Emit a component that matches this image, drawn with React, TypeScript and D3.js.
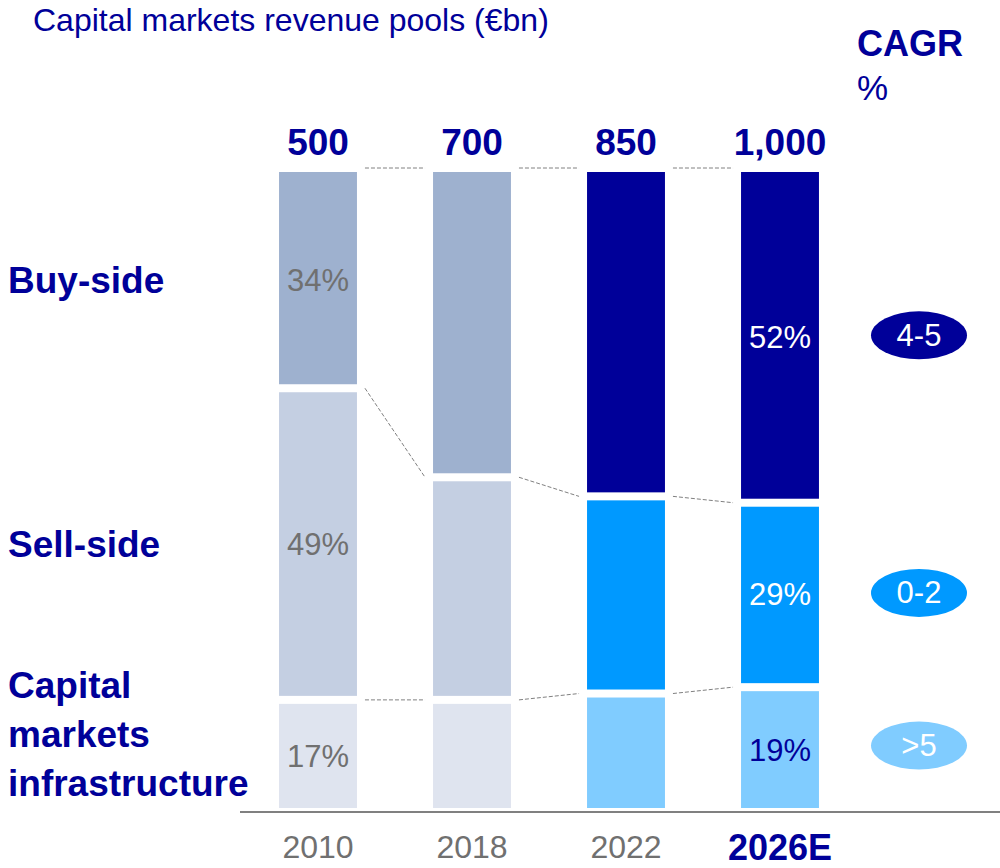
import React from "react";
import * as d3 from "d3";

// revenue pools, share of total in %
const years = ["2010", "2018", "2022", "2026E"];
const totals = ["500", "700", "850", "1,000"];
const buySide = [34, 48, 51, 52];
const sellSide = [49, 35, 31, 29];
const infrastructure = [17, 17, 18, 19];
const cagr = ["4-5", "0-2", ">5"];

// which bars carry their share labels
const labelledYears = ["2010", "2026E"];

const W = 1000;
const H = 868;
const NAVY = "#000099";
const GAP = 4;
const FONT = "Arial, 'Liberation Sans', sans-serif";

const keys = ["infra", "sell", "buy"];
const oldColors: Record<string, string> = { buy: "#9eb1cf", sell: "#c4cfe2", infra: "#dfe4ef" };
const newColors: Record<string, string> = { buy: "#000099", sell: "#0099ff", infra: "#80ccff" };

const App = () => {
  const rows = years.map((y, i) => ({
    year: y,
    infra: infrastructure[i],
    sell: sellSide[i],
    buy: buySide[i],
  }));
  const series = d3.stack<any>().keys(keys)(rows);

  const x = d3
    .scaleBand()
    .domain(years)
    .range([241, 857])
    .paddingInner(0.494)
    .paddingOuter(0.247);
  const y = d3.scaleLinear().domain([0, 100]).range([808, 172]);
  const bw = x.bandwidth();

  const isNew = (i: number) => i >= 2;
  const segColor = (key: string, i: number) => (isNew(i) ? newColors[key] : oldColors[key]);
  const labelColor = (key: string, i: number) => {
    if (!isNew(i)) return "#707070";
    return key === "infra" ? NAVY : "#ffffff";
  };

  // boundaries between stacked segments for the dashed connectors
  const levels = years.map((_, i) => [100, infrastructure[i] + sellSide[i], infrastructure[i]]);
  const connectors: { x1: number; x2: number; y1: number; y2: number }[] = [];
  for (let i = 0; i < years.length - 1; i++) {
    levels[i].forEach((lv, j) => {
      const off = j === 0 ? -4 : 0;
      connectors.push({
        x1: (x(years[i]) as number) + bw + 8,
        x2: (x(years[i + 1]) as number) - 8,
        y1: y(lv) + off,
        y2: y(levels[i + 1][j]) + off,
      });
    });
  }

  const last = years.length - 1;
  const buyMid = (y(100) + y(infrastructure[0] + sellSide[0])) / 2;
  const sellMid = (y(infrastructure[0] + sellSide[0]) + y(infrastructure[0])) / 2;

  return (
    <svg
      width={W}
      height={H}
      style={{ position: "absolute", left: 0, top: 0, fontFamily: FONT }}
    >
      <rect width={W} height={H} fill="#ffffff" />
      <text x={33} y={31} fontSize={32} fill={NAVY}>
        Capital markets revenue pools (€bn)
      </text>

      <text x={857} y={56} fontSize={36} fontWeight="bold" fill={NAVY}>
        CAGR
      </text>
      <text x={857} y={100} fontSize={35} fill={NAVY}>
        %
      </text>

      {/* row labels */}
      <g fill={NAVY} fontWeight="bold" fontSize={37}>
        <text x={8} y={buyMid} dominantBaseline="central">Buy-side</text>
        <text x={8} y={sellMid} dominantBaseline="central">Sell-side</text>
        <text x={8} y={698}>Capital</text>
        <text x={8} y={747}>markets</text>
        <text x={8} y={796}>infrastructure</text>
      </g>

      {connectors.map((c, i) => (
        <line
          key={i}
          x1={c.x1}
          x2={c.x2}
          y1={c.y1}
          y2={c.y2}
          stroke="#808080"
          strokeWidth={1}
          strokeDasharray="4,2"
        />
      ))}

      {series.map((s) => (
        <g key={s.key}>
          {s.map((d, i) => {
            const top = y(d[1]) + (d[1] < 100 ? GAP : 0);
            const bottom = y(d[0]) - (d[0] > 0 ? GAP : 0);
            const x0 = x(years[i]) as number;
            return (
              <g key={years[i]}>
                <rect x={x0} y={top} width={bw} height={bottom - top} fill={segColor(s.key, i)} />
                {labelledYears.includes(years[i]) && (
                  <text
                    x={x0 + bw / 2}
                    y={(y(d[0]) + y(d[1])) / 2 + (s.key === "infra" ? 3 : 0)}
                    textAnchor="middle"
                    dominantBaseline="central"
                    fontSize={31}
                    fill={labelColor(s.key, i)}
                  >
                    {d[1] - d[0]}%
                  </text>
                )}
              </g>
            );
          })}
        </g>
      ))}

      {/* totals */}
      {years.map((yr, i) => (
        <text
          key={yr}
          x={(x(yr) as number) + bw / 2}
          y={155}
          textAnchor="middle"
          fontSize={37}
          fontWeight="bold"
          fill={NAVY}
        >
          {totals[i]}
        </text>
      ))}

      {/* axis */}
      <line x1={240} x2={W} y1={812} y2={812} stroke="#808080" strokeWidth={2} />
      {years.map((yr, i) => (
        <text
          key={yr}
          x={(x(yr) as number) + bw / 2}
          y={847}
          textAnchor="middle"
          dominantBaseline="central"
          fontSize={i === last ? 36 : 32}
          fontWeight={i === last ? "bold" : "normal"}
          fill={i === last ? NAVY : "#707070"}
        >
          {yr}
        </text>
      ))}

      {/* CAGR pills, aligned with the 2026E segments */}
      {["buy", "sell", "infra"].map((key, j) => {
        const s = series.find((q) => q.key === key)!;
        const d = s[last];
        const cy = (y(d[0]) + y(d[1])) / 2 - 2;
        return (
          <g key={key}>
            <ellipse cx={919} cy={cy} rx={48} ry={24} fill={newColors[key]} />
            <text
              x={919}
              y={cy}
              textAnchor="middle"
              dominantBaseline="central"
              fontSize={31}
              fill="#ffffff"
            >
              {cagr[j]}
            </text>
          </g>
        );
      })}
    </svg>
  );
};

export default App;
